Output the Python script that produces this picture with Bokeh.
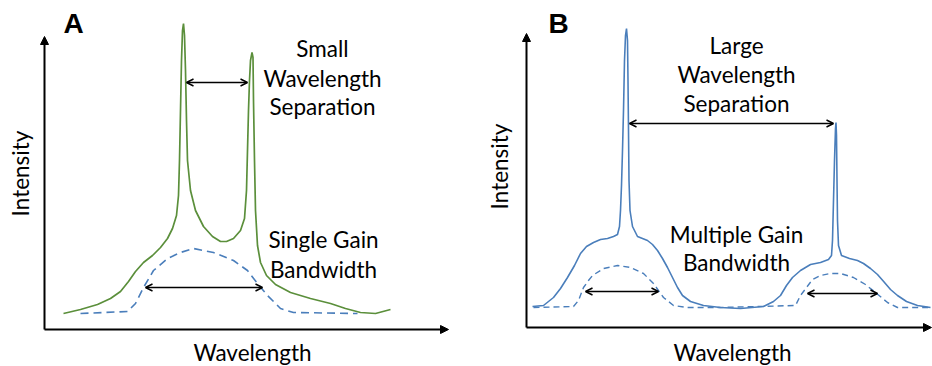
import math
from bokeh.plotting import figure
from bokeh.layouts import row
from bokeh.models import Range1d, Arrow, NormalHead, OpenHead, Label
from bokeh.embed import file_html
from bokeh.resources import INLINE

# ---------------- Panel A: single gain bandwidth, small separation ----------------
a_laser_x = [19, 36, 53, 66, 76, 84, 91, 99, 108, 116, 123, 128, 132, 134, 135, 136, 137,
             138, 139, 140, 141, 142, 143, 146, 151, 159, 168, 176, 182, 189, 196, 200,
             202, 203, 204, 205, 206, 207.5, 208.5, 209, 210, 211, 213, 216, 222, 231,
             246, 266, 286, 301, 316, 331, 346]
a_laser_y = [16, 20, 25, 31, 38, 48, 58, 67, 74, 82, 91, 101, 114, 134, 169, 219, 269,
             299, 306, 294, 259, 209, 169, 139, 119, 103, 93, 88, 88, 91, 99, 111,
             139, 179, 219, 249, 269, 277, 272, 229, 169, 119, 84, 67, 54, 45,
             37, 31, 26, 21, 17, 16, 20]
a_gain_x = [36, 83, 91, 99, 109, 123, 136, 149, 169, 189, 203, 213, 223, 236, 249, 313]
a_gain_y = [16, 18, 26, 42, 59, 71, 77, 81, 77, 69, 59, 46, 34, 21, 17, 16]
a_sep_x = [142, 203]      # small wavelength separation (between the two lasing lines)
a_sep_y = 247
a_bw_x = [101, 218]       # single gain bandwidth
a_bw_y = 42

# ---------------- Panel B: multiple gain bandwidths, large separation ----------------
b_laser_x = [6, 17, 27, 34, 41, 48, 54, 60, 67, 74, 81, 87, 91, 93, 94, 95, 96, 97, 98, 99,
             100, 101, 101.5, 102, 102.5, 103.5, 106, 111, 121, 126, 131, 136, 141, 146,
             151, 156, 164, 177, 194, 214, 237, 247, 254, 260, 266, 274, 284, 294, 302,
             305, 306, 307, 308, 309, 309.5, 310, 310.5, 311, 312, 315, 323, 331, 337,
             344, 351, 358, 364, 371, 380, 391, 404]
b_laser_y = [21, 22, 30, 39, 50, 62, 74, 81, 85, 88, 89, 91, 93, 101, 117, 142, 177, 217,
             267, 292, 299, 287, 247, 197, 147, 117, 101, 91, 87, 83, 77, 69, 60, 50,
             40, 32, 26, 22, 20, 19, 21, 26, 32, 42, 50, 57, 63, 65, 68,
             72, 87, 127, 167, 199, 205, 192, 147, 107, 82, 72, 69, 67, 64,
             59, 53, 45, 38, 32, 26, 22, 20]
b_gain_x = [7, 47, 52, 57, 62, 66, 77, 91, 104, 117, 127, 137, 147, 161, 194, 269, 274,
            280, 286, 294, 304, 314, 327, 339, 349, 361, 371, 404]
b_gain_y = [20, 21, 27, 40, 47, 52, 59, 62, 60, 54, 44, 30, 22, 20, 20, 22, 32,
            40, 48, 52, 54, 54, 50, 43, 35, 25, 20, 20]
b_sep_x = [103, 307]      # large wavelength separation
b_sep_y = 204
b_bw1_x = [59, 132]       # first gain bandwidth
b_bw1_y = 36
b_bw2_x = [281, 351]      # second gain bandwidth
b_bw2_y = 34

GREEN = "#5b8f3b"
BLUE = "#4a7ebb"
FONT = "Lato"
FS = "22.5px"


def panel(xr, yr):
    p = figure(width=466, height=366, x_range=Range1d(*xr), y_range=Range1d(*yr),
               output_backend="svg", toolbar_location=None, title=None,
               x_axis_location=None, y_axis_location=None, min_border=0)
    p.grid.visible = False
    p.outline_line_color = None
    return p


def axes(p, xend, yend):
    p.add_layout(Arrow(end=NormalHead(size=8, fill_color="black", line_color="black", line_width=1),
                       x_start=0, y_start=0, x_end=xend, y_end=0, line_width=2, line_color="black"))
    p.add_layout(Arrow(end=NormalHead(size=8, fill_color="black", line_color="black", line_width=1),
                       x_start=0, y_start=0, x_end=0, y_end=yend, line_width=2, line_color="black"))


def dbl(p, xs, y):
    p.add_layout(Arrow(start=OpenHead(size=7, line_width=1.4, line_color="black"),
                       end=OpenHead(size=7, line_width=1.4, line_color="black"),
                       x_start=xs[0], y_start=y, x_end=xs[1], y_end=y,
                       line_width=1.4, line_color="black"))


def txt(p, x, y, s, **kw):
    opts = dict(text_font=FONT, text_font_size=FS, text_color="black",
                text_align="center", text_baseline="middle")
    opts.update(kw)
    p.add_layout(Label(x=x, y=y, text=s, **opts))


# Panel A  (page x 0..466)
pa = panel((-44, 422), (-37, 329))
pa.line(a_gain_x, a_gain_y, line_color=BLUE, line_width=1.6, line_dash="8 5")
pa.line(a_laser_x, a_laser_y, line_color=GREEN, line_width=1.7)
axes(pa, 404, 293)
dbl(pa, a_sep_x, a_sep_y)
dbl(pa, a_bw_x, a_bw_y)
txt(pa, 19, 306, "A", text_font="Liberation Sans", text_font_style="bold",
    text_font_size="28px", text_align="left")
txt(pa, 278, 281.5, "Small")
txt(pa, 278, 251.5, "Wavelength")
txt(pa, 278, 223.5, "Separation")
txt(pa, 279, 90.5, "Single Gain")
txt(pa, 279, 60.5, "Bandwidth")
txt(pa, -24, 156, "Intensity", angle=math.pi / 2)
txt(pa, 208, -23, "Wavelength")

# Panel B  (page x 466..932)
pb = panel((-60, 406), (-39, 327))
pb.line(b_gain_x, b_gain_y, line_color=BLUE, line_width=1.4, line_dash="6 4")
pb.line(b_laser_x, b_laser_y, line_color=BLUE, line_width=1.6)
axes(pb, 405, 294)
dbl(pb, b_sep_x, b_sep_y)
dbl(pb, b_bw1_x, b_bw1_y)
dbl(pb, b_bw2_x, b_bw2_y)
txt(pb, 22, 304, "B", text_font="Liberation Sans", text_font_style="bold",
    text_font_size="28px", text_align="left")
txt(pb, 210, 282, "Large")
txt(pb, 210, 253.5, "Wavelength")
txt(pb, 210, 224.5, "Separation")
txt(pb, 210, 93.5, "Multiple Gain")
txt(pb, 210, 65.5, "Bandwidth")
txt(pb, -27, 161, "Intensity", angle=math.pi / 2)
txt(pb, 206, -25, "Wavelength")

layout = row(pa, pb)
open("out.html", "w").write(file_html(layout, INLINE))
